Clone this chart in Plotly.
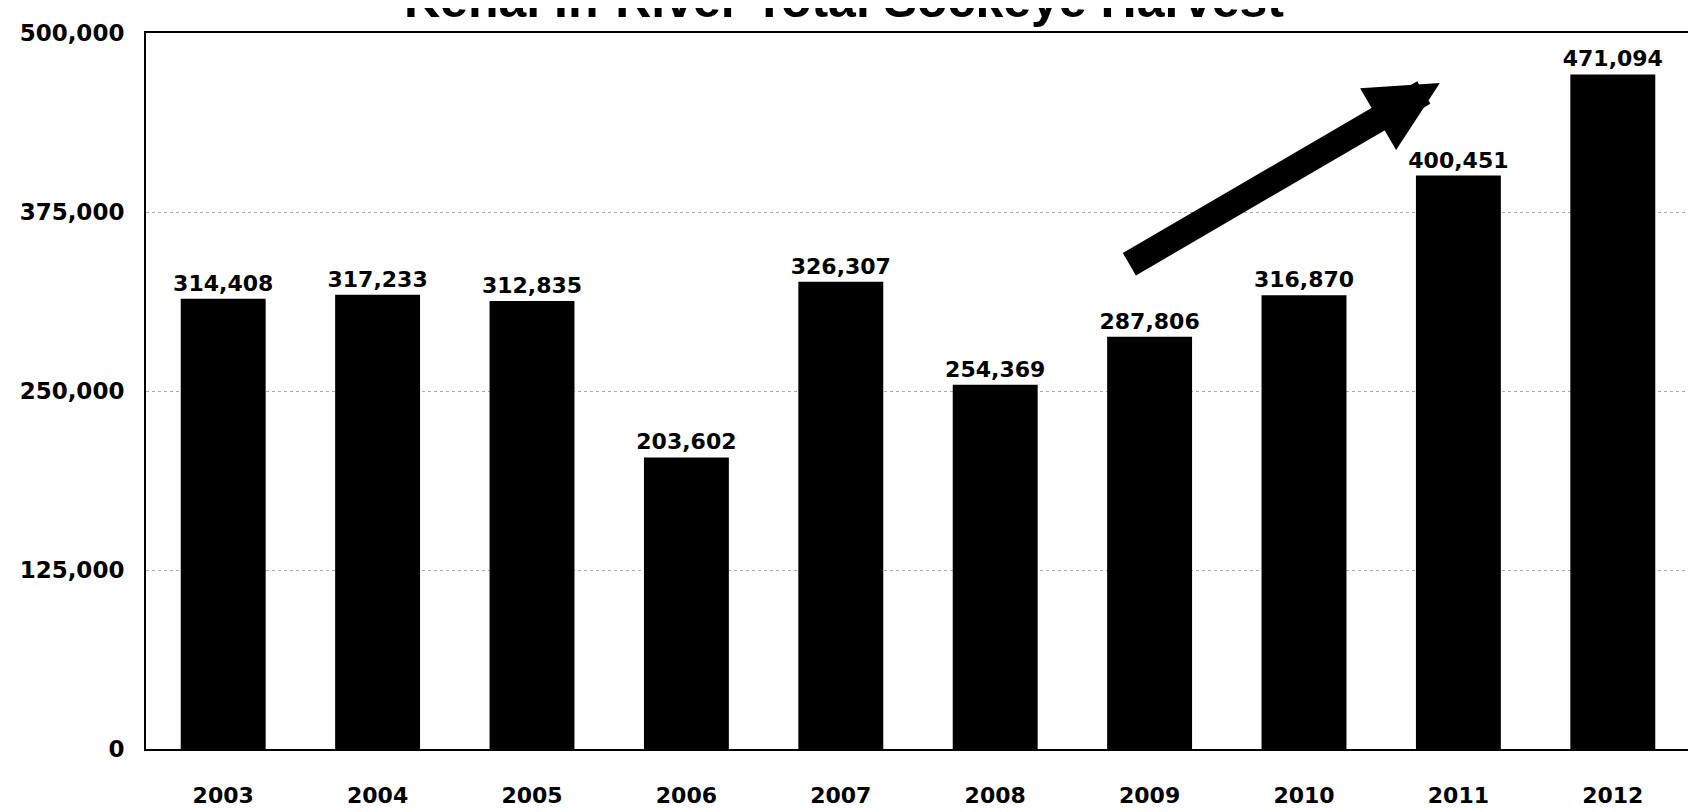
import plotly.graph_objects as go

years = ["2003", "2004", "2005", "2006", "2007", "2008", "2009", "2010", "2011", "2012"]
harvest = [314408, 317233, 312835, 203602, 326307, 254369, 287806, 316870, 400451, 471094]
y_ticks = [0, 125000, 250000, 375000, 500000]
y_tick_labels = ["0", "125,000", "250,000", "375,000", "500,000"]
title_text = "Kenai In-River Total Sockeye Harvest"

FONT = "DejaVu Sans, sans-serif"
TFONT = "Liberation Sans, Arial, sans-serif"

fig = go.Figure()
fig.add_trace(go.Bar(
    x=years, y=harvest,
    marker=dict(color="black", line=dict(width=0)),
    width=0.55,
    text=[f"{v:,}" for v in harvest],
    textposition="outside",
    constraintext="none",
    textfont=dict(family=FONT, size=22, color="black", weight="bold"),
    cliponaxis=False,
))

fig.update_layout(
    width=1696, height=812,
    paper_bgcolor="white", plot_bgcolor="white",
    margin=dict(l=132, r=12, t=22, b=70),
    showlegend=False,
    font=dict(family=FONT, color="black"),
)
fig.update_xaxes(
    type="category",
    showline=True, linecolor="black", linewidth=2, mirror=True,
    ticks="", ticklabelstandoff=26,
    tickfont=dict(family=FONT, size=22, color="black", weight="bold"),
    showgrid=False,
)
fig.update_yaxes(
    range=[0, 500000],
    tickvals=y_ticks, ticktext=y_tick_labels,
    showline=True, linecolor="black", linewidth=2, mirror=True,
    ticks="", ticklabelstandoff=15,
    tickfont=dict(family=FONT, size=23, color="black", weight="bold"),
    showgrid=True, gridcolor="#aaaaaa", griddash="dot", gridwidth=1,
    zeroline=False,
)

# cropped title at top edge (as in the reference scan)
fig.add_annotation(
    text=title_text, xref="paper", yref="paper", x=0.452, y=1.004,
    xanchor="center", yanchor="bottom", showarrow=False,
    font=dict(family=TFONT, size=50, color="black", weight="bold"),
)

# upward trend arrow
fig.add_annotation(
    text="", xref="paper", yref="paper", x=0.838, y=0.93,
    ax=-312, ay=182, axref="pixel", ayref="pixel",
    showarrow=True, arrowhead=2, arrowsize=0.55, arrowwidth=26,
    arrowcolor="black", standoff=0,
)

fig.write_html("out.html")
